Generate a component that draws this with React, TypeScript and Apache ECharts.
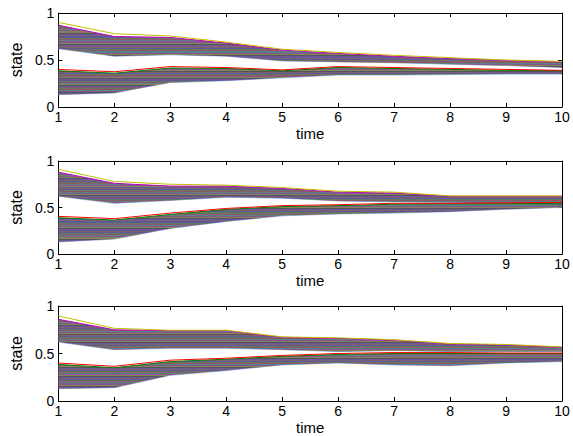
import React, { useEffect, useRef } from "react";
import * as echarts from "echarts";

const times = ["1", "2", "3", "4", "5", "6", "7", "8", "9", "10"];
const yTicks = [0, 0.5, 1];

// Plot 1
const p1UpperAccent = [0.9, 0.78, 0.755, 0.69, 0.615, 0.58, 0.55, 0.525, 0.5, 0.485];
const p1UpperTop = [0.87, 0.75, 0.74, 0.68, 0.605, 0.57, 0.54, 0.515, 0.495, 0.48];
const p1UpperBottom = [0.62, 0.54, 0.555, 0.54, 0.49, 0.48, 0.47, 0.455, 0.44, 0.42];
const p1LowerAccent = [0.4, 0.375, 0.43, 0.42, 0.395, 0.43, 0.42, 0.41, 0.4, 0.39];
const p1LowerTop = [0.385, 0.36, 0.415, 0.41, 0.385, 0.42, 0.41, 0.4, 0.39, 0.385];
const p1LowerBottom = [0.13, 0.15, 0.26, 0.28, 0.31, 0.34, 0.34, 0.345, 0.35, 0.35];

// Plot 2
const p2UpperAccent = [0.91, 0.78, 0.75, 0.74, 0.715, 0.675, 0.665, 0.625, 0.625, 0.625];
const p2UpperTop = [0.88, 0.76, 0.73, 0.73, 0.705, 0.665, 0.655, 0.62, 0.62, 0.62];
const p2UpperBottom = [0.62, 0.545, 0.575, 0.61, 0.6, 0.57, 0.56, 0.555, 0.54, 0.53];
const p2LowerAccent = [0.405, 0.38, 0.44, 0.49, 0.52, 0.53, 0.545, 0.545, 0.55, 0.555];
const p2LowerTop = [0.39, 0.365, 0.425, 0.48, 0.51, 0.52, 0.535, 0.54, 0.54, 0.545];
const p2LowerBottom = [0.13, 0.16, 0.275, 0.35, 0.41, 0.43, 0.44, 0.455, 0.48, 0.5];

// Plot 3
const p3UpperAccent = [0.895, 0.765, 0.745, 0.745, 0.675, 0.665, 0.645, 0.605, 0.595, 0.57];
const p3UpperTop = [0.86, 0.75, 0.74, 0.74, 0.67, 0.66, 0.64, 0.6, 0.59, 0.565];
const p3UpperBottom = [0.62, 0.54, 0.555, 0.555, 0.54, 0.52, 0.53, 0.52, 0.52, 0.52];
const p3LowerAccent = [0.4, 0.365, 0.43, 0.45, 0.48, 0.5, 0.51, 0.51, 0.505, 0.505];
const p3LowerTop = [0.385, 0.35, 0.415, 0.44, 0.47, 0.49, 0.5, 0.5, 0.5, 0.5];
const p3LowerBottom = [0.13, 0.14, 0.27, 0.32, 0.38, 0.4, 0.38, 0.37, 0.4, 0.415];

const plots = [
  { ua: p1UpperAccent, ut: p1UpperTop, ub: p1UpperBottom, la: p1LowerAccent, lt: p1LowerTop, lb: p1LowerBottom },
  { ua: p2UpperAccent, ut: p2UpperTop, ub: p2UpperBottom, la: p2LowerAccent, lt: p2LowerTop, lb: p2LowerBottom },
  { ua: p3UpperAccent, ut: p3UpperTop, ub: p3UpperBottom, la: p3LowerAccent, lt: p3LowerTop, lb: p3LowerBottom },
];

const gridLayout = [
  { top: 13, height: 94 },
  { top: 161, height: 93 },
  { top: 306, height: 95 },
];

const stripeColors = ["#5e5a9a", "#66765f", "#8a5a68", "#5a8088", "#84568c", "#86825e", "#55555e", "#6a5898", "#7a6070"];

function stripes(n: number, shift: number) {
  const stops: { offset: number; color: string }[] = [];
  for (let i = 0; i < n; i++) {
    const c = stripeColors[(i + shift) % stripeColors.length];
    stops.push({ offset: i / n, color: c });
    stops.push({ offset: (i + 1) / n, color: c });
  }
  return { type: "linear", x: 0, y: 0, x2: 0, y2: 1, colorStops: stops };
}

const FONT = "'Liberation Sans', Arial, Helvetica, sans-serif";

export default function App() {
  const ref = useRef<HTMLDivElement>(null);
  useEffect(() => {
    if (!ref.current) return;
    const chart = echarts.init(ref.current, undefined, { renderer: "svg" });
    const grid: any[] = [];
    const xAxis: any[] = [];
    const yAxis: any[] = [];
    const series: any[] = [];
    plots.forEach((p, i) => {
      grid.push({ left: 56, width: 506, top: gridLayout[i].top, height: gridLayout[i].height, containLabel: false });
      const baseX = {
        type: "category",
        data: times,
        boundaryGap: false,
        gridIndex: i,
        axisLine: { show: true, onZero: false, lineStyle: { color: "#000", width: 1 } },
        axisTick: { show: true, inside: true, length: 4, alignWithLabel: true, lineStyle: { color: "#000" } },
        splitLine: { show: false },
      };
      xAxis.push({
        ...baseX,
        position: "bottom",
        name: "time",
        nameLocation: "middle",
        nameGap: 19,
        nameTextStyle: { fontFamily: FONT, fontSize: 15, color: "#000" },
        axisLabel: { show: true, fontFamily: FONT, fontSize: 14, color: "#000", margin: 3, interval: 0 },
      });
      xAxis.push({ ...baseX, position: "top", axisLabel: { show: false } });
      const baseY = {
        type: "value",
        min: 0,
        max: 1,
        interval: 0.5,
        gridIndex: i,
        axisLine: { show: true, onZero: false, lineStyle: { color: "#000", width: 1 } },
        axisTick: { show: true, inside: true, length: 4, lineStyle: { color: "#000" } },
        splitLine: { show: false },
      };
      yAxis.push({
        ...baseY,
        position: "left",
        name: "state",
        nameLocation: "middle",
        nameGap: 20,
        nameTextStyle: { fontFamily: FONT, fontSize: 16, color: "#000" },
        axisLabel: {
          show: true,
          fontFamily: FONT,
          fontSize: 14,
          color: "#000",
          margin: 4,
          formatter: (v: number) => (yTicks.includes(v) ? String(v) : ""),
        },
      });
      yAxis.push({ ...baseY, position: "right", axisLabel: { show: false } });

      const xi = i * 2;
      const yi = i * 2;
      const clusters = [
        { key: "L", acc: p.la, top: p.lt, bot: p.lb, accColor: "#ff0000", topColor: "#008000", shift: 2 },
        { key: "U", acc: p.ua, top: p.ut, bot: p.ub, accColor: "#bfbf00", topColor: "#bf00bf", shift: 0 },
      ];
      clusters.forEach((c) => {
        const stack = `${c.key}${i}`;
        series.push({
          type: "line",
          xAxisIndex: xi,
          yAxisIndex: yi,
          stack,
          symbol: "none",
          data: c.bot,
          lineStyle: { color: "#8fb0e0", width: 0.8 },
          z: 2,
        });
        series.push({
          type: "line",
          xAxisIndex: xi,
          yAxisIndex: yi,
          stack,
          symbol: "none",
          data: c.top.map((v, k) => +(v - c.bot[k]).toFixed(4)),
          lineStyle: { color: c.topColor, width: 1 },
          areaStyle: { color: stripes(34, c.shift), opacity: 1 },
          z: 3,
        });
        series.push({
          type: "line",
          xAxisIndex: xi,
          yAxisIndex: yi,
          symbol: "none",
          data: c.acc,
          lineStyle: { color: c.accColor, width: 1 },
          z: 4,
        });
      });
    });
    chart.setOption({
      animation: false,
      backgroundColor: "#fff",
      grid,
      xAxis,
      yAxis,
      series,
    });
    return () => chart.dispose();
  }, []);
  return <div ref={ref} style={{ position: "fixed", left: 0, top: 0, width: 573, height: 436 }} />;
}
